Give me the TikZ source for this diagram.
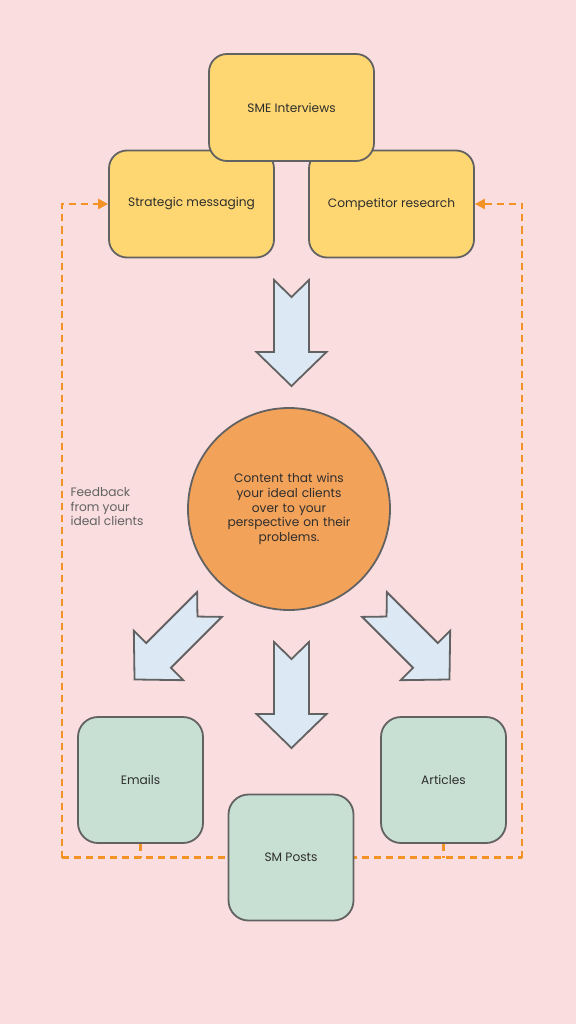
\documentclass[tikz,border=0pt]{standalone}
\usepackage{fontspec}
\setmainfont{Poppins}
\usepackage{xcolor}
\usepackage{tikz}
\usetikzlibrary{shapes,arrows.meta,positioning,calc}
\definecolor{fond}{HTML}{FADDDF}
\definecolor{jaune}{HTML}{FFD772}
\definecolor{orange}{HTML}{F3A259}
\definecolor{vert}{HTML}{C8E0D4}
\definecolor{bleu}{HTML}{DCE8F4}
\definecolor{bord}{HTML}{626262}
\definecolor{texte}{HTML}{2E2E2E}
\definecolor{pointille}{HTML}{F39325}
\tikzstyle{source} = [rectangle, rounded corners=18pt, minimum width=165pt, minimum height=107pt, text centered, draw=bord, line width=1.8pt, fill=jaune, text=texte]
\tikzstyle{canal} = [rectangle, rounded corners=20pt, minimum width=125pt, minimum height=126pt, text centered, draw=bord, line width=1.8pt, fill=vert, text=texte]
\tikzstyle{contenu} = [circle, minimum size=202pt, text width=140pt, align=center, draw=bord, line width=1.8pt, fill=orange, text=texte]
\tikzstyle{bloc} = [draw=bord, line width=1.8pt, fill=bleu, line join=miter]
\tikzstyle{retour} = [draw=pointille, line width=2.3pt, dash pattern=on 7pt off 5pt]
\tikzset{fleche/.pic={
    \path[bloc] (-17.5,-53) -- (0,-36) -- (17.5,-53) -- (17.5,19) -- (35,19)
        -- (0,53) -- (-35,19) -- (-17.5,19) -- cycle;
}}

\begin{document}
\begin{tikzpicture}[x=1pt, y=-1pt, every node/.style={font=\fontsize{12.2}{14.7}\selectfont}]

% Fond
\fill[fond] (0,0) rectangle (576,1024);
\useasboundingbox (0,0) rectangle (576,1024);

% Sources
\node (strat) [source] at (191.5,204) {Strategic messaging};
\node (comp) [source] at (391.5,204) {Competitor research};
\node (sme) [source] at (291.5,107.5) {SME Interviews};

% Contenu central
\node (contenu) [contenu] at (289,509) {
    Content that wins\\
    your ideal clients\\
    over to your\\
    perspective on their\\
    problems.
};

% Canaux
\node (emails) [canal] at (140.5,780) {Emails};
\node (articles) [canal] at (443.5,780) {Articles};

% Retour des clients
\coordinate (coinG) at (62,857.5);
\coordinate (coinD) at (522,857.5);
\draw [retour] (emails.south) -- (emails.south |- coinG);
\draw [retour] (articles.south) -- (articles.south |- coinD);
\draw [retour, -{Triangle[length=10pt, width=10pt]}] (coinG) |- (strat.west);
\draw [retour, -{Triangle[length=10pt, width=10pt]}] (coinD) |- (comp.east);
\draw [retour] (coinG) -- (coinD);

\node (posts) [canal] at (291,857.5) {SM Posts};

\node (feedback) [anchor=north west, align=left, text=bord] at (67,484) {
    Feedback\\
    from your\\
    ideal clients
};

% Fleches
\pic (versContenu) at (291.5,333) {fleche};
\pic (versEmails) [rotate=-45] at (172,642) {fleche};
\pic (versPosts) at (291.5,695) {fleche};
\pic (versArticles) [rotate=45] at (412,642) {fleche};

\end{tikzpicture}
\end{document}
